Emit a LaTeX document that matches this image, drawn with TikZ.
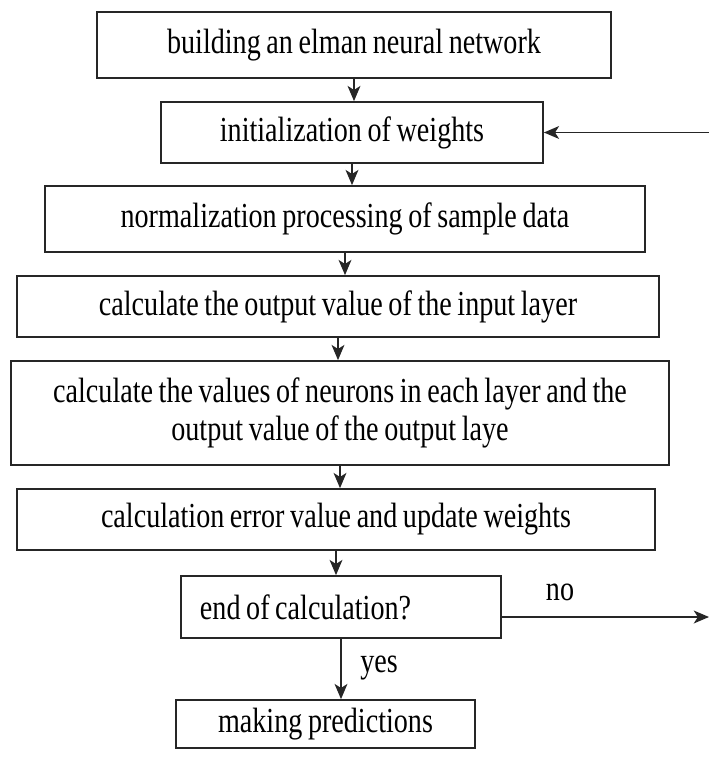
\documentclass[tikz,border=0pt]{standalone}
\usepackage{fontspec}
\setmainfont[FakeStretch=0.8, WordSpace=0.8]{Liberation Serif}
\usetikzlibrary{arrows.meta, positioning}
\definecolor{boxline}{HTML}{262626}
\tikzset{
  stepbox/.style={draw=boxline, line width=1.5pt, inner ysep=2pt, align=center},
  flow/.style={draw=boxline, line width=1.1pt, -{Stealth[length=13pt, width=11pt, inset=3.5pt]}},
  tag/.style={inner sep=0pt}
}
\newcommand{\bigtext}{\fontsize{30}{33}\selectfont}

\begin{document}
\begin{tikzpicture}[x=0.03cm, y=-0.03cm, font=\bigtext]
  \useasboundingbox (0,0) rectangle (709,765);

  % steps
  \node[stepbox, minimum width=15.42cm, minimum height=1.98cm] (build) at (354,45) {building an elman neural network};
  \node[stepbox, minimum width=11.46cm, minimum height=1.83cm] (init) at (352,132.5) {initialization of weights};
  \node[stepbox, minimum width=18cm, minimum height=1.98cm] (norm) at (345,219) {normalization processing of sample data};
  \node[stepbox, minimum width=19.26cm, minimum height=1.83cm] (input) at (338,306.5) {calculate the output value of the input layer};
  \node[stepbox, minimum width=19.74cm, minimum height=3.12cm] (neuron) at (340,413) {calculate the values of neurons in each layer and the\\output value of the output laye};
  \node[stepbox, minimum width=19.14cm, minimum height=1.83cm] (error) at (336,519.5) {calculation error value and update weights};
  \node[stepbox, inner xsep=0.57cm, minimum height=1.86cm] (endc) at (341,607) {\makebox[8.46cm][l]{end of calculation?}};
  \node[stepbox, minimum width=8.97cm, minimum height=1.44cm] (pred) at (325.5,724) {making predictions};

  % flow
  \draw[flow] (build.south) -- (build.south |- init.north);
  \draw[flow] (init.south) -- (init.south |- norm.north);
  \draw[flow] (norm.south) -- (norm.south |- input.north);
  \draw[flow] (input.south) -- (input.south |- neuron.north);
  \draw[flow] (neuron.south) -- (neuron.south |- error.north);
  \draw[flow] (error.south) -- (error.south |- endc.north);
  \draw[flow] (endc.south) -- (endc.south |- pred.north);
  \node[tag] (yeslabel) at (379,668) {yes};

  % loop back
  \coordinate (noout) at (709,617);
  \coordinate (backin) at (709,132.5);
  \draw[flow] (noout -| endc.east) -- (noout);
  \node[tag] (nolabel) at (560,592) {no};
  \draw[flow] (backin) -- (init.east);
\end{tikzpicture}
\end{document}
